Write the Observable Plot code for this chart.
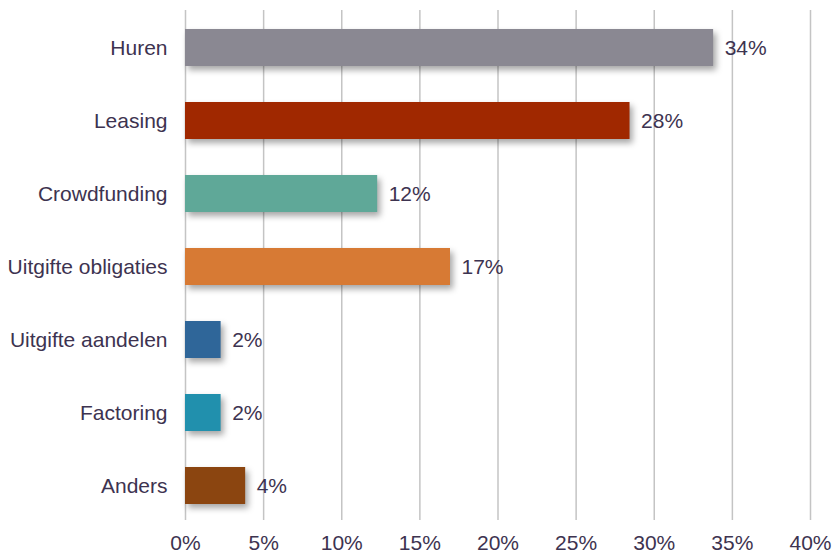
<!DOCTYPE html>
<html>
<head>
<meta charset="utf-8">
<script src="https://cdn.jsdelivr.net/npm/d3@7"></script>
<script src="https://cdn.jsdelivr.net/npm/@observablehq/plot@0.6"></script>
<style>
  html, body { margin: 0; padding: 0; background: #fff; }
  #chart svg { display: block; }
</style>
</head>
<body>
<div id="chart"></div>
<script>
const categories = ["Huren", "Leasing", "Crowdfunding", "Uitgifte obligaties", "Uitgifte aandelen", "Factoring", "Anders"];
const values = [33.8, 28.45, 12.3, 16.96, 2.28, 2.28, 3.85];
const valueLabels = ["34%", "28%", "12%", "17%", "2%", "2%", "4%"];
const barColors = ["#8a8892", "#a02800", "#5fa898", "#d77a34", "#2f6699", "#2190ad", "#8b4510"];
const xTicks = [0, 5, 10, 15, 20, 25, 30, 35, 40];

const data = categories.map((c, i) => ({category: c, value: values[i], label: valueLabels[i], color: barColors[i]}));

const textColor = "#3d3350";

const chart = Plot.plot({
  width: 833,
  height: 554,
  marginLeft: 185,
  marginRight: 23,
  marginTop: 10,
  marginBottom: 34,
  style: {fontFamily: "'Liberation Sans', Arial, sans-serif", fontSize: "21px", color: textColor, background: "#fff", overflow: "visible"},
  x: {domain: [0, 40], ticks: xTicks},
  y: {domain: categories, range: [10, 522], paddingInner: 0.5, paddingOuter: 0.25},
  marks: [
    Plot.gridX(xTicks, {stroke: "#c4c4c4", strokeWidth: 1.5, strokeOpacity: 1}),
    Plot.barX(data, {x: "value", y: "category", fill: "color"}),
    Plot.text(data, {x: "value", y: "category", text: "label", textAnchor: "start", dx: 11, fill: textColor, fontSize: 21}),
    Plot.axisX(xTicks, {tickSize: 0, tickPadding: 15, tickFormat: d => d + "%", label: null, fontSize: 21, fill: textColor}),
    Plot.axisY({tickSize: 0, tickPadding: 18, label: null, fontSize: 21, fill: textColor})
  ]
});

chart.querySelectorAll('g[aria-label="bar"] rect').forEach(r => {
  r.style.filter = "drop-shadow(3px 4px 3px rgba(0,0,0,0.35))";
});

document.getElementById("chart").appendChild(chart);
</script>
</body>
</html>
